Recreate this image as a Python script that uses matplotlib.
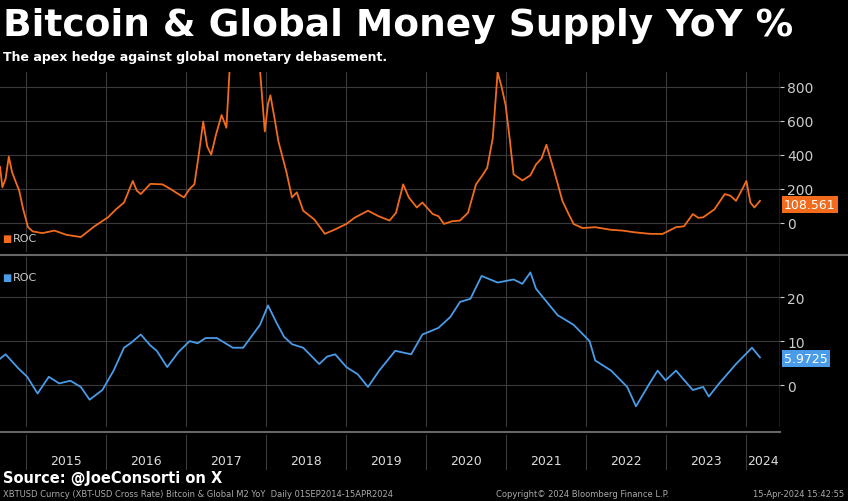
import matplotlib
matplotlib.use("Agg")
import matplotlib.pyplot as plt

btc_t = [2014.67,2014.70,2014.74,2014.78,2014.82,2014.86,2014.91,2014.96,2015.02,2015.08,2015.2,2015.35,2015.5,2015.68,2015.85,2016.02,2016.12,2016.22,2016.33,2016.38,2016.43,2016.55,2016.70,2016.80,2016.90,2016.97,2017.04,2017.10,2017.16,2017.21,2017.26,2017.31,2017.37,2017.44,2017.50,2017.54,2017.65,2017.81,2017.92,2017.98,2018.02,2018.05,2018.10,2018.15,2018.25,2018.32,2018.38,2018.46,2018.60,2018.73,2018.85,2019.00,2019.10,2019.27,2019.40,2019.54,2019.62,2019.71,2019.78,2019.88,2019.95,2020.08,2020.15,2020.22,2020.32,2020.42,2020.52,2020.62,2020.70,2020.76,2020.83,2020.89,2020.94,2020.99,2021.04,2021.09,2021.20,2021.30,2021.37,2021.44,2021.50,2021.60,2021.70,2021.77,2021.84,2021.95,2022.11,2022.30,2022.45,2022.60,2022.79,2022.95,2023.12,2023.22,2023.33,2023.40,2023.46,2023.60,2023.73,2023.80,2023.87,2023.95,2024.00,2024.05,2024.10,2024.17]
btc_v = [330,210,260,390,300,250,190,80,-25,-50,-60,-45,-70,-83,-20,33,80,120,247,190,170,230,227,200,170,150,200,227,420,596,450,402,520,635,560,900,1000,1000,900,538,700,751,620,480,300,150,180,72,20,-64,-40,-6,30,72,40,14,60,227,150,91,120,52,40,-6,10,14,60,227,280,324,500,887,800,693,500,286,250,280,344,380,460,300,130,60,-6,-30,-25,-40,-45,-55,-64,-65,-25,-20,52,30,33,80,170,160,130,200,247,120,91,130]

m2_t = [2014.67,2014.74,2014.81,2014.90,2015.01,2015.14,2015.28,2015.41,2015.55,2015.68,2015.79,2015.95,2016.09,2016.22,2016.30,2016.43,2016.55,2016.63,2016.76,2016.90,2017.04,2017.14,2017.24,2017.38,2017.58,2017.71,2017.92,2018.02,2018.12,2018.22,2018.32,2018.46,2018.66,2018.76,2018.86,2019.00,2019.14,2019.27,2019.41,2019.61,2019.81,2019.95,2020.15,2020.30,2020.42,2020.55,2020.69,2020.89,2021.09,2021.20,2021.30,2021.37,2021.50,2021.64,2021.84,2022.04,2022.11,2022.31,2022.51,2022.62,2022.79,2022.89,2022.99,2023.12,2023.33,2023.46,2023.53,2023.66,2023.87,2024.07,2024.17]
m2_v = [6.0,7.0,5.6,3.8,1.9,-1.9,1.9,0.4,1.0,-0.4,-3.3,-1.1,3.3,8.5,9.5,11.5,9.0,7.8,4.1,7.5,10.0,9.5,10.7,10.7,8.5,8.5,13.7,18.1,14.4,11.0,9.3,8.5,4.8,6.5,7.0,4.1,2.5,-0.4,3.3,7.8,7.0,11.5,13.0,15.5,18.9,19.6,24.8,23.3,24.0,23.0,25.6,21.9,19.0,15.9,13.7,10.0,5.6,3.3,-0.4,-4.8,0.4,3.3,1.1,3.3,-1.1,-0.4,-2.6,0.4,4.8,8.5,6.3]

years = [2015,2016,2017,2018,2019,2020,2021,2022,2023,2024]
btc_last, m2_last = 108.561, 5.9725
ORANGE, BLUE, GRID = "#f26b1d", "#4a9be8", "#3a3a3a"

fig = plt.figure(figsize=(8.48,5.02), dpi=100, facecolor="black")
W, H = 848, 502
def rect(l, t, w, h): return [l/W, 1-(t+h)/H, w/W, h/H]
ax1 = fig.add_axes(rect(0,73,780,180))
ax2 = fig.add_axes(rect(0,258,780,170))
xl = (2014.67, 2024.42)
for ax in (ax1, ax2):
    ax.set_facecolor("black")
    ax.set_xlim(*xl)
    for s in ax.spines.values(): s.set_visible(False)
    ax.yaxis.tick_right()
    ax.tick_params(axis="y", colors="#cccccc", labelsize=10, length=3, pad=2)
    ax.set_xticks([])
    for y in years:
        ax.axvline(y, color=GRID, lw=0.8, zorder=0)
    ax.axvline(xl[1], color="#888888", lw=1)

ax1.set_ylim(-171, 888)
ax1.set_yticks([0,200,400,600,800])
for v in [0,200,400,600,800]: ax1.axhline(v, color=GRID, lw=0.8, zorder=0)
ax1.plot(btc_t, btc_v, color=ORANGE, lw=1.3)
ax1.text(xl[1]+0.05, btc_last, f"{btc_last}", color="white", fontsize=9, va="center",
         bbox=dict(boxstyle="square,pad=0.15", fc=ORANGE, ec="none"), clip_on=False)
ax1.text(0.003, 0.08, "■", color=ORANGE, fontsize=7, transform=ax1.transAxes, va="center")
ax1.text(0.017, 0.08, "ROC", color="#cccccc", fontsize=8, transform=ax1.transAxes, va="center")

ax2.set_ylim(-9.5, 29.1)
ax2.set_yticks([0,10,20])
for v in [0,10,20]: ax2.axhline(v, color=GRID, lw=0.8, zorder=0)
ax2.plot(m2_t, m2_v, color=BLUE, lw=1.3)
ax2.text(xl[1]+0.05, m2_last, f"{m2_last}", color="white", fontsize=9, va="center",
         bbox=dict(boxstyle="square,pad=0.15", fc=BLUE, ec="none"), clip_on=False)
ax2.text(0.003, 0.88, "■", color=BLUE, fontsize=7, transform=ax2.transAxes, va="center")
ax2.text(0.017, 0.88, "ROC", color="#cccccc", fontsize=8, transform=ax2.transAxes, va="center")

fig.add_artist(plt.Line2D([0, 1], [1-255.5/H]*2, color="#666666", lw=1.5))
fig.add_artist(plt.Line2D([0, 780/W], [1-433/H]*2, color="#666666", lw=1.5))

for y in years:
    mid = min(y+0.5, (y+xl[1])/2)
    xf = (mid-xl[0])/(xl[1]-xl[0])*780/W
    fig.text(xf, 1-462/H, str(y), color="#dddddd", fontsize=9, ha="center", va="center")
for y in years:
    xf = (y-xl[0])/(xl[1]-xl[0])*780/W
    fig.add_artist(plt.Line2D([xf, xf], [1-470/H, 1-436/H], color=GRID, lw=0.8))

fig.text(0.004, 1-26/H, "Bitcoin & Global Money Supply YoY %", color="white", fontsize=27,
         fontweight="bold", va="center")
fig.text(0.004, 1-58/H, "The apex hedge against global monetary debasement.", color="white",
         fontsize=9, fontweight="bold", va="center")
fig.text(0.004, 1-479/H, "Source: @JoeConsorti on X", color="white", fontsize=10.5,
         fontweight="bold", va="center")
fig.text(0.004, 1-495/H, "XBTUSD Curncy (XBT-USD Cross Rate) Bitcoin & Global M2 YoY  Daily 01SEP2014-15APR2024",
         color="#aaaaaa", fontsize=6, va="center")
fig.text(0.585, 1-495/H, "Copyright© 2024 Bloomberg Finance L.P.", color="#aaaaaa", fontsize=6, va="center")
fig.text(0.995, 1-495/H, "15-Apr-2024 15:42:55", color="#aaaaaa", fontsize=6, va="center", ha="right")

fig.savefig("out.png", dpi=100, facecolor="black")
